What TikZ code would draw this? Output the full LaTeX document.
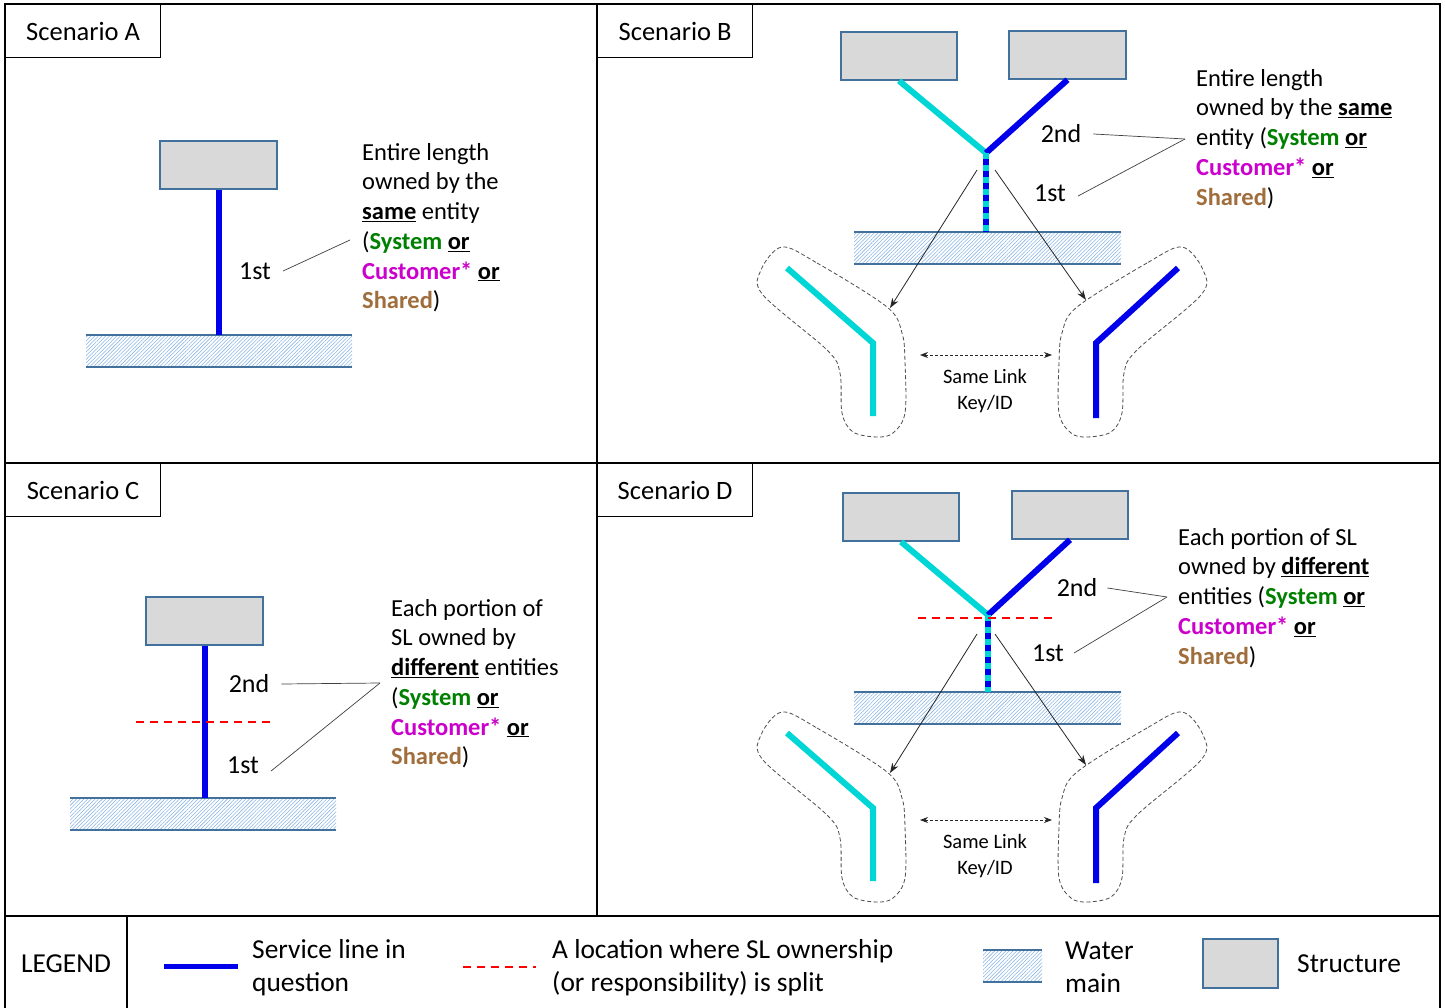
\documentclass[tikz,border=0pt]{standalone}
\usepackage{fontspec}
\setmainfont{Carlito}
\usetikzlibrary{patterns.meta,arrows.meta}
\definecolor{sblue}{RGB}{65,113,156}
\definecolor{slblue}{RGB}{0,0,235}
\definecolor{scyan}{RGB}{0,214,214}
\definecolor{sgreen}{RGB}{0,128,0}
\definecolor{smag}{RGB}{204,0,204}
\definecolor{sbrown}{RGB}{160,110,60}
\definecolor{hatchc}{RGB}{135,180,228}
\definecolor{sgray}{RGB}{217,217,217}
\newcommand{\grn}[1]{\textcolor{sgreen}{\textbf{#1}}}
\newcommand{\mgt}[1]{\textcolor{smag}{\textbf{#1}}}
\newcommand{\brn}[1]{\textcolor{sbrown}{\textbf{#1}}}
\newcommand{\bul}[1]{\underline{\textbf{#1}}}
\newcommand{\kidneypair}[2]{%
  \begin{scope}[shift={(0,#1)}]
    \draw[outline] plot[smooth cycle, tension=0.55] coordinates {(782,247) (817,263) (887,307) (902,333) (905,362) (905,413) (893,433) (877,437) (853,432) (842,413) (840,373) (827,350) (763,295) (761,270)};
    \begin{scope}[shift={(1964,0)}, xscale=-1]
      \draw[outline] plot[smooth cycle, tension=0.55] coordinates {(782,247) (817,263) (887,307) (902,333) (905,362) (905,413) (893,433) (877,437) (853,432) (842,413) (840,373) (827,350) (763,295) (761,270)};
    \end{scope}
    \draw[slc, line join=miter] (787,268) -- (873,343) -- (873,416);
    \draw[sl, line join=miter] (1178,268) -- (1096,343) -- (1096,418);
    \coordinate (kl#2) at (890,308);
    \coordinate (kr#2) at (1086,300);
    \coordinate (dl#2) at (920,355);
    \coordinate (dr#2) at (1052,355);
    \draw[dbl] (dl#2) -- (dr#2);
    \node[small] (same#2) at (985,391) {Same Link\\Key/ID};
  \end{scope}}
\begin{document}
\begin{tikzpicture}[x=1pt,y=-1pt,
  frame/.style={draw=black, line width=1.2pt},
  titlebox/.style={draw=black, line width=1.2pt, anchor=north west, minimum width=155pt, minimum height=53pt, inner sep=0pt, font=\fontsize{26.5}{30}\selectfont},
  structure/.style={draw=sblue, fill=sgray, line width=1.6pt, inner sep=0pt},
  wmain/.style={pattern={Lines[angle=45,distance=2.6pt,line width=0.55pt]}, pattern color=hatchc, inner sep=0pt},
  wline/.style={draw=sblue, line width=2pt},
  sl/.style={draw=slblue, line width=6pt},
  slc/.style={draw=scyan, line width=6pt},
  split/.style={draw=red, line width=1.6pt, dash pattern=on 8pt off 6pt},
  leader/.style={draw=black!75, line width=0.7pt},
  lbl/.style={font=\fontsize{26}{30}\selectfont, inner sep=0pt},
  body/.style={anchor=north west, align=left, inner sep=0pt, font=\fontsize{24.5}{29.7}\selectfont},
  small/.style={align=center, inner sep=0pt, font=\fontsize{20.5}{26}\selectfont},
  legtext/.style={anchor=west, align=left, inner sep=0pt, font=\fontsize{27.4}{33}\selectfont},
  outline/.style={draw=black!70, line width=0.8pt, dash pattern=on 4pt off 2.5pt},
  ptr/.style={draw=black!85, line width=0.8pt, -{Stealth[length=10pt,width=7pt]}},
  dbl/.style={draw=black!85, line width=0.8pt, dash pattern=on 3pt off 2pt, {Stealth[length=8pt,width=6pt]}-{Stealth[length=8pt,width=6pt]}}
]
\useasboundingbox (0,0) rectangle (1445,1008);
\fill[white] (0,0) rectangle (1445,1008);

% ---------- frame ----------
\draw[frame] (5,1010) -- (5,4) -- (1440,4) -- (1440,1010);
\draw[frame] (5,463) -- (1440,463);
\draw[frame] (5,916) -- (1440,916);
\draw[frame] (597,4) -- (597,916);
\draw[frame] (127,916) -- (127,1010);

\node[titlebox] (titleA) at (5,4) {Scenario A};
\node[titlebox] (titleB) at (597,4) {Scenario B};
\node[titlebox] (titleC) at (5,463) {Scenario C};
\node[titlebox] (titleD) at (597,463) {Scenario D};

% ---------- Scenario A ----------
\node[structure, minimum width=117pt, minimum height=48pt] (sA) at (218.5,165) {};
\node[wmain, minimum width=266pt, minimum height=32pt] (mA) at (219,351) {};
\draw[wline] (mA.north west) -- (mA.north east) (mA.south west) -- (mA.south east);
\draw[sl] (sA.south) -- (sA.south |- mA.north);
\node[lbl] (oneA) at (255,271) {1st};
\coordinate (lA) at (350,240);
\draw[leader] ([xshift=12pt]oneA.east) -- (lA);
\node[body] (txtA) at (362,143) {Entire length\\owned by the\\\bul{same} entity\\(\grn{System} \bul{or}\\\mgt{Customer*} \bul{or}\\\brn{Shared})};

% ---------- Scenario B ----------
\node[structure, minimum width=116pt, minimum height=48pt] (sB1) at (899,56) {};
\node[structure, minimum width=117pt, minimum height=48pt] (sB2) at (1067.5,55) {};
\node[wmain, minimum width=267pt, minimum height=32pt] (mB) at (987.5,248) {};
\draw[wline] (mB.north west) -- (mB.north east) (mB.south west) -- (mB.south east);
\coordinate (jB) at (986,153);
\draw[slc] (sB1.south) -- (jB);
\draw[sl] (sB2.south) -- (jB);
\draw[slc] (jB) -- (jB |- mB.north);
\draw[sl, dash pattern=on 6pt off 6pt, dash phase=-6pt] (jB) -- (jB |- mB.north);
\node[lbl] (twoB) at (1061,134) {2nd};
\node[lbl] (oneB) at (1050,193) {1st};
\coordinate (lB) at (1185,139);
\draw[leader] ([xshift=12pt]twoB.east) -- (lB);
\draw[leader] ([xshift=12pt,yshift=-3pt]oneB.east) -- (lB);
\node[body] (txtB) at (1196,69) {Entire length\\owned by the \bul{same}\\entity (\grn{System} \bul{or}\\\mgt{Customer*} \bul{or}\\\brn{Shared})};
\kidneypair{0}{B}
\coordinate (aB1) at (977,170);
\coordinate (aB2) at (995,170);
\draw[ptr] (aB1) -- (klB);
\draw[ptr] (aB2) -- (krB);

% ---------- Scenario C ----------
\node[structure, minimum width=117pt, minimum height=48pt] (sC) at (204.5,621) {};
\node[wmain, minimum width=266pt, minimum height=32pt] (mC) at (203,814) {};
\draw[wline] (mC.north west) -- (mC.north east) (mC.south west) -- (mC.south east);
\draw[sl] (sC.south) -- (sC.south |- mC.north);
\coordinate (rC1) at (136,722);
\coordinate (rC2) at (270,722);
\draw[split] (rC1) -- (rC2);
\node[lbl] (twoC) at (249,684) {2nd};
\node[lbl] (oneC) at (243,765) {1st};
\coordinate (lC) at (380,683);
\draw[leader] ([xshift=12pt]twoC.east) -- (lC);
\draw[leader] ([xshift=12pt,yshift=-6pt]oneC.east) -- (lC);
\node[body] (txtC) at (391,599) {Each portion of\\SL owned by\\\bul{different} entities\\(\grn{System} \bul{or}\\\mgt{Customer*} \bul{or}\\\brn{Shared})};

% ---------- Scenario D ----------
\node[structure, minimum width=116pt, minimum height=48pt] (sD1) at (901,517) {};
\node[structure, minimum width=116pt, minimum height=48pt] (sD2) at (1070,515) {};
\node[wmain, minimum width=267pt, minimum height=32pt] (mD) at (987.5,708) {};
\draw[wline] (mD.north west) -- (mD.north east) (mD.south west) -- (mD.south east);
\coordinate (jD) at (988,615);
\draw[slc] (sD1.south) -- (jD);
\draw[sl] (sD2.south) -- (jD);
\draw[slc] (jD) -- (jD |- mD.north);
\draw[sl, dash pattern=on 6pt off 6pt, dash phase=-6pt] (jD) -- (jD |- mD.north);
\coordinate (rD1) at (918,618);
\coordinate (rD2) at (1052,618);
\draw[split] (rD1) -- (rD2);
\node[lbl] (twoD) at (1077,588) {2nd};
\node[lbl] (oneD) at (1048,653) {1st};
\coordinate (lD) at (1167,597);
\draw[leader] ([xshift=10pt]twoD.east) -- (lD);
\draw[leader] ([xshift=10pt]oneD.east) -- (lD);
\node[body] (txtD) at (1178,528) {Each portion of SL\\owned by \bul{different}\\entities (\grn{System} \bul{or}\\\mgt{Customer*} \bul{or}\\\brn{Shared})};
\kidneypair{465}{D}
\coordinate (aD1) at (977,634);
\coordinate (aD2) at (995,634);
\draw[ptr] (aD1) -- (klD);
\draw[ptr] (aD2) -- (krD);

% ---------- Legend ----------
\node[inner sep=0pt, font=\fontsize{27.4}{33}\selectfont] (legend) at (66,964) {LEGEND};
\coordinate (lg1) at (164,966);
\coordinate (lg2) at (238,966);
\draw[draw=slblue, line width=5pt] (lg1) -- (lg2);
\node[legtext] (legsl) at (252,967.5) {Service line in\\question};
\coordinate (lg3) at (463,967);
\coordinate (lg4) at (536,967);
\draw[split] (lg3) -- (lg4);
\node[legtext] (legsplit) at (552,967.5) {A location where SL ownership\\(or responsibility) is split};
\node[wmain, minimum width=59pt, minimum height=32pt] (legwm) at (1012.5,966) {};
\draw[wline] (legwm.north west) -- (legwm.north east) (legwm.south west) -- (legwm.south east);
\node[legtext] (legwmt) at (1065,967.5) {Water\\main};
\node[structure, minimum width=75pt, minimum height=49pt] (legst) at (1240.5,963.5) {};
\node[legtext] (legstt) at (1297,964) {Structure};
\end{tikzpicture}
\end{document}
